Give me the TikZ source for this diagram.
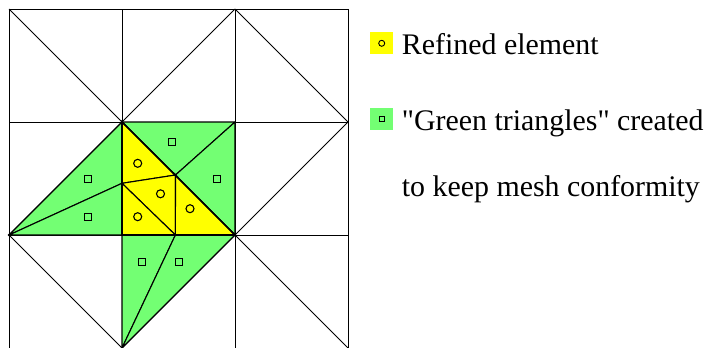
\documentclass[tikz,border=0pt]{standalone}
\usepackage{fontspec}
\setmainfont{Liberation Serif}[Ligatures=TeXOff]
\definecolor{refy}{RGB}{255,255,0}
\definecolor{greenT}{RGB}{115,255,115}
\begin{document}
\begin{tikzpicture}[x=1bp,y=-1bp,
  meshline/.style={line width=1bp, draw=black},
  greentri/.style={fill=greenT, draw=black, line width=1.1bp, line join=round},
  yellowtri/.style={fill=refy, draw=black, line width=1.1bp, line join=round},
  circmark/.style={circle, draw=black, line width=1.1bp, minimum size=8bp, inner sep=0pt},
  sqmark/.style={rectangle, draw=black, line width=1.1bp, minimum size=7bp, inner sep=0pt},
  vdot/.style={circle, fill=black, minimum size=2.6bp, inner sep=0pt},
  legbox/.style={minimum width=23bp, minimum height=22bp, inner sep=0pt},
  legtext/.style={anchor=base west, font=\fontsize{30}{36}\selectfont, inner sep=0pt}]
\useasboundingbox (0,0) rectangle (706,347);
% grid vertices g<col><row>, rows counted from bottom
\foreach \i in {0,...,3}{
  \foreach \j in {0,...,3}{
    \coordinate (g\i\j) at ({9+113*\i},{348-113*\j});
  }
}
\coordinate (L) at (122,183.3);
\coordinate (Mh) at (175.5,175);
\coordinate (B) at (175.4,235);
% grid
\foreach \j in {0,...,3}{\draw[meshline] (g0\j) -- (g3\j);}
\foreach \i in {0,...,3}{\draw[meshline] (g\i0) -- (g\i3);}
\draw[meshline] (g03) -- (g12);
\draw[meshline] (g12) -- (g23);
\draw[meshline] (g23) -- (g32);
\draw[meshline] (g01) -- (g12);
\draw[meshline] (g21) -- (g32);
\draw[meshline] (g01) -- (g10);
\draw[meshline] (g10) -- (g21);
\draw[meshline] (g21) -- (g30);
% green triangles
\draw[greentri] (g12) -- (g22) -- (Mh) -- cycle;
\draw[greentri] (Mh) -- (g22) -- (g21) -- cycle;
\draw[greentri] (g01) -- (g12) -- (L) -- cycle;
\draw[greentri] (g01) -- (L) -- (g11) -- cycle;
\draw[greentri] (g11) -- (B) -- (g10) -- cycle;
\draw[greentri] (B) -- (g21) -- (g10) -- cycle;
% refined (yellow) triangles
\draw[yellowtri] (g12) -- (L) -- (Mh) -- cycle;
\draw[yellowtri] (L) -- (B) -- (Mh) -- cycle;
\draw[yellowtri] (L) -- (g11) -- (B) -- cycle;
\draw[yellowtri] (Mh) -- (B) -- (g21) -- cycle;
\draw[line width=1.6bp] (g12) -- (g11) -- (g21) -- cycle;
% vertex dots
\foreach \p in {g12,g21,g01,g10,L,Mh,B}{\node[vdot] at (\p) {};}
% markers
\node[circmark] (c1) at (137.7,163.3) {};
\node[circmark] (c2) at (160.5,193.8) {};
\node[circmark] (c3) at (137.7,216.7) {};
\node[circmark] (c4) at (190,208.7) {};
\node[sqmark] (s1) at (171.7,141.7) {};
\node[sqmark] (s2) at (216.7,179) {};
\node[sqmark] (s3) at (88.3,179) {};
\node[sqmark] (s4) at (88.3,216.7) {};
\node[sqmark] (s5) at (141.7,261.7) {};
\node[sqmark] (s6) at (179,261.7) {};
% legend
\node[legbox, fill=refy] (legY) at (381.7,43.3) {};
\node[circle, draw=black, line width=0.9bp, minimum size=6bp, inner sep=0pt] (legYc) at (legY.center) {};
\node[legbox, fill=greenT] (legG) at (381.7,119) {};
\node[rectangle, draw=black, line width=0.9bp, minimum size=5.5bp, inner sep=0pt] (legGs) at (legG.center) {};
\node[legtext] (t1) at (401.7,54.3) {Refined element};
\node[legtext] (t2) at (401.7,130) {"Green triangles" created};
\node[legtext] (t3) at (401.7,196.7) {to keep mesh conformity};
\end{tikzpicture}
\end{document}
